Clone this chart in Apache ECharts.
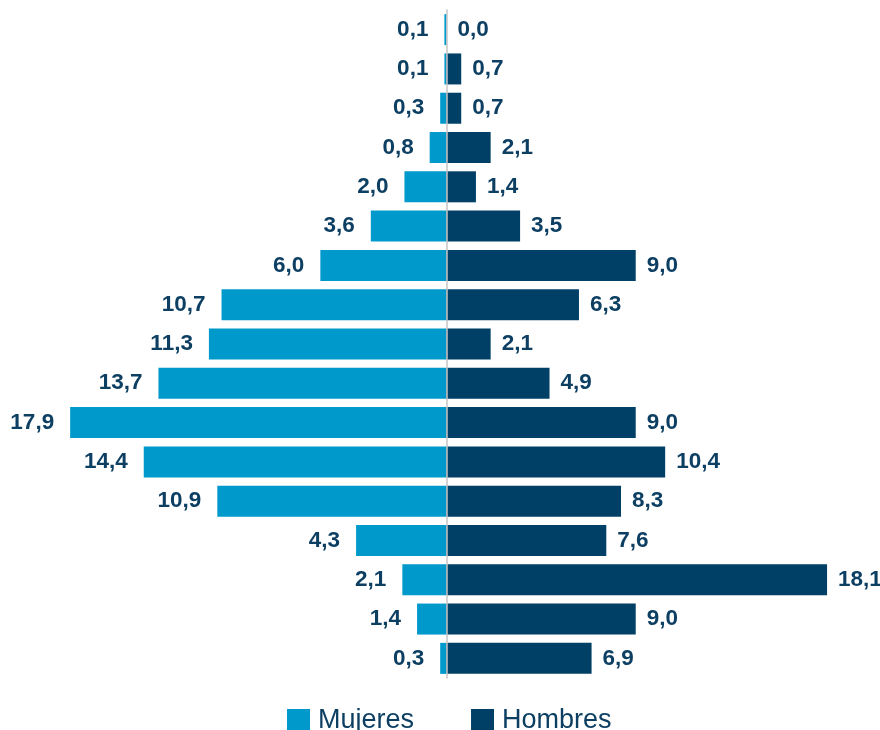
<!DOCTYPE html>
<html>
<head>
<meta charset="utf-8">
<script src="https://cdn.jsdelivr.net/npm/echarts@6/dist/echarts.min.js"></script>
<style>
html,body{margin:0;padding:0;background:#fff;}
#chart{width:880px;height:730px;}
</style>
</head>
<body>
<div id="chart"></div>
<script>
// Age groups (top to bottom, labels not shown in the picture)
var categories = ['G1','G2','G3','G4','G5','G6','G7','G8','G9','G10','G11','G12','G13','G14','G15','G16','G17'];
var mujeres = [0.1, 0.1, 0.3, 0.8, 2.0, 3.6, 6.0, 10.7, 11.3, 13.7, 17.9, 14.4, 10.9, 4.3, 2.1, 1.4, 0.3];
var hombres = [0.0, 0.7, 0.7, 2.1, 1.4, 3.5, 9.0, 6.3, 2.1, 4.9, 9.0, 10.4, 8.3, 7.6, 18.1, 9.0, 6.9];
var seriesNames = ['Mujeres', 'Hombres'];

var fmt = function (p) { return Math.abs(p.value).toFixed(1).replace('.', ','); };
var labelStyle = { fontFamily: 'Liberation Sans, Arial, sans-serif', fontWeight: 'bold', fontSize: 22.5, color: '#0d3f63' };

var chart = echarts.init(document.getElementById('chart'), null, { renderer: 'canvas' });
chart.setOption({
  animation: false,
  grid: { left: 26, width: 841, top: 10, height: 668, containLabel: false },
  xAxis: {
    type: 'value', min: -20, max: 20,
    show: false
  },
  yAxis: {
    type: 'category', data: categories, inverse: true,
    axisLine: { show: true, onZero: true, lineStyle: { color: '#c4c4c4', width: 1.5 } },
    axisTick: { show: false }, axisLabel: { show: false }, splitLine: { show: false },
    z: 5
  },
  legend: {
    data: seriesNames,
    left: 282, top: 702, padding: 5,
    itemWidth: 23, itemHeight: 23, itemGap: 57,
    icon: 'rect',
    textStyle: { fontFamily: 'Liberation Sans, Arial, sans-serif', fontSize: 27, lineHeight: 23, color: '#0d3f63', padding: [2,0,0,3] }
  },
  series: [
    {
      name: seriesNames[0], type: 'bar',
      data: mujeres.map(function (v) { return -v; }),
      barWidth: 31, barGap: '-100%',
      itemStyle: { color: '#0099cc' },
      label: Object.assign({ show: true, position: 'left', distance: 16, formatter: fmt }, labelStyle)
    },
    {
      name: seriesNames[1], type: 'bar',
      data: hombres,
      barWidth: 31,
      itemStyle: { color: '#003f66' },
      label: Object.assign({ show: true, position: 'right', distance: 11, formatter: fmt }, labelStyle)
    }
  ]
});
</script>
</body>
</html>
